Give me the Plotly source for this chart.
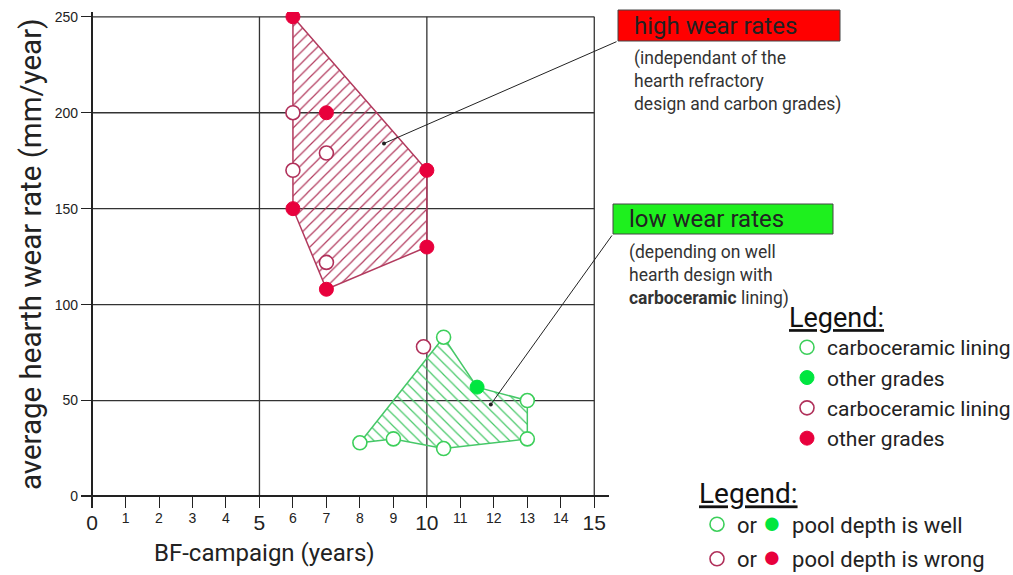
import plotly.graph_objects as go

# ---------------- data ----------------
x_ticks = list(range(0, 16))
x_major = [0, 5, 10, 15]
y_ticks = [0, 50, 100, 150, 200, 250]
grid_x = [5, 10, 15]
grid_y = [50, 100, 150, 200, 250]

green_open_x = [10.5, 13, 8, 9, 10.5, 13]
green_open_y = [83, 50, 28, 30, 25, 30]
green_fill_x = [11.5]
green_fill_y = [57]
red_open_x = [6, 7, 6, 7, 9.9]
red_open_y = [200, 179, 170, 122, 78]
red_fill_x = [6, 7, 10, 6, 10, 7]
red_fill_y = [250, 200, 170, 150, 130, 108]

high_zone_x = [6, 10, 10, 7, 6, 6]
high_zone_y = [250, 170, 130, 108, 150, 250]
low_zone_x = [10.5, 11.5, 13, 13, 10.5, 9, 8, 10.5]
low_zone_y = [83, 57, 50, 30, 25, 30, 28, 83]

legend1_names = ["carboceramic lining", "other grades", "carboceramic lining", "other grades"]
legend2_names = ["pool depth is well", "pool depth is wrong"]

# ---------------- style ----------------
FONT = "Roboto"
TICKFONT = "Liberation Sans"
RED_FILL = "#e8003c"
RED_LINE = "#b0305a"
RED_HATCH = "#b23a5e"
GREEN_FILL = "#00e640"
GREEN_LINE = "#3ccf5a"
GREEN_HATCH = "#46c868"
INK = "#222222"

W, H = 1013, 575
ML, MR, MT, MB = 81, 404, 12, 67
XR = [-0.33, 15.44]
YR = [-6.0, 252.5]
PW = W - ML - MR
PH = H - MT - MB


def px(xv):
    return ML + (xv - XR[0]) / (XR[1] - XR[0]) * PW


def py(yv):
    return MT + (YR[1] - yv) / (YR[1] - YR[0]) * PH


def paper_x(xp):
    return (xp - ML) / PW


def paper_y(yp):
    return (H - MB - yp) / PH


fig = go.Figure()

# hatched zones
fig.add_trace(go.Scatter(
    x=high_zone_x, y=high_zone_y, mode="lines", fill="toself",
    fillcolor="rgba(0,0,0,0)",
    fillpattern=dict(shape="/", fgcolor=RED_HATCH, bgcolor="rgba(0,0,0,0)",
                     size=8, solidity=0.15, fillmode="replace"),
    line=dict(color=RED_HATCH, width=1.5), showlegend=False, hoverinfo="skip"))
fig.add_trace(go.Scatter(
    x=low_zone_x, y=low_zone_y, mode="lines", fill="toself",
    fillcolor="rgba(0,0,0,0)",
    fillpattern=dict(shape="\\", fgcolor=GREEN_HATCH, bgcolor="rgba(0,0,0,0)",
                     size=8, solidity=0.15, fillmode="replace"),
    line=dict(color=GREEN_HATCH, width=1.5), showlegend=False, hoverinfo="skip"))

# markers
MS = 14
fig.add_trace(go.Scatter(
    x=green_open_x, y=green_open_y, mode="markers", name=legend1_names[0],
    marker=dict(size=MS, color="white", line=dict(color=GREEN_LINE, width=1.6))))
fig.add_trace(go.Scatter(
    x=green_fill_x, y=green_fill_y, mode="markers", name=legend1_names[1],
    marker=dict(size=MS, color=GREEN_FILL, line=dict(color=GREEN_FILL, width=1))))
fig.add_trace(go.Scatter(
    x=red_open_x, y=red_open_y, mode="markers", name=legend1_names[2],
    marker=dict(size=MS, color="white", line=dict(color=RED_LINE, width=1.6))))
fig.add_trace(go.Scatter(
    x=red_fill_x, y=red_fill_y, mode="markers", name=legend1_names[3],
    marker=dict(size=MS, color=RED_FILL, line=dict(color=RED_FILL, width=1))))

# second legend entries (pool depth)
DOT = "<span style='color:%s;font-size:31px'>●</span>"
fig.add_trace(go.Scatter(
    x=[None], y=[None], mode="markers", legend="legend2", xaxis="x2", legendgroup="g1",
    name="or\u00a0" + DOT % GREEN_FILL + "\u00a0\u00a0" + legend2_names[0],
    marker=dict(size=MS, color="white", line=dict(color=GREEN_LINE, width=1.6))))
fig.add_trace(go.Scatter(
    x=[None], y=[None], mode="markers", legend="legend2", xaxis="x2", legendgroup="g2",
    name="or\u00a0" + DOT % RED_FILL + "\u00a0\u00a0" + legend2_names[1],
    marker=dict(size=MS, color="white", line=dict(color=RED_LINE, width=1.6))))

# grid as shapes (grid stops at x=15 and y=250)
shapes = []
for gx in grid_x:
    shapes.append(dict(type="line", xref="x", yref="y", x0=gx, x1=gx, y0=0, y1=max(y_ticks),
                       line=dict(color="#333333", width=1.3), layer="below"))
for gy in grid_y:
    shapes.append(dict(type="line", xref="x", yref="y", x0=0, x1=max(x_ticks), y0=gy, y1=gy,
                       line=dict(color="#333333", width=1.3), layer="below"))


def rect_px(x0, y0, x1, y1, fill):
    return dict(type="rect", xref="paper", yref="paper",
                x0=paper_x(x0), x1=paper_x(x1), y0=paper_y(y1), y1=paper_y(y0),
                fillcolor=fill, line=dict(color="#444444", width=1), layer="above")


shapes.append(rect_px(618, 10, 840, 41, "#ff0000"))
shapes.append(rect_px(613, 204, 833, 234, "#1ef01e"))

annotations = [
    dict(text="high wear rates", x=paper_x(632), y=paper_y(25.5), xref="paper", yref="paper",
         xanchor="left", yanchor="middle", showarrow=False, font=dict(family=FONT, size=24, color=INK)),
    dict(text="(independant of the<br>hearth refractory<br>design and carbon grades)",
         x=paper_x(632), y=paper_y(81), xref="paper", yref="paper", align="left",
         xanchor="left", yanchor="middle", showarrow=False, font=dict(family=FONT, size=17.5, color="#333333")),
    dict(text="low wear rates", x=paper_x(627), y=paper_y(219), xref="paper", yref="paper",
         xanchor="left", yanchor="middle", showarrow=False, font=dict(family=FONT, size=24, color=INK)),
    dict(text="(depending on well<br>hearth design with<br><b>carboceramic</b> lining)",
         x=paper_x(627), y=paper_y(275), xref="paper", yref="paper", align="left",
         xanchor="left", yanchor="middle", showarrow=False, font=dict(family=FONT, size=17.5, color="#333333")),
    dict(text="BF-campaign (years)", x=paper_x(264), y=paper_y(553), xref="paper", yref="paper",
         xanchor="center", yanchor="middle", showarrow=False, font=dict(family=FONT, size=24, color=INK)),
    dict(text="average hearth wear rate (mm/year)", x=paper_x(31), y=paper_y(255), xref="paper", yref="paper",
         textangle=-90, xanchor="center", yanchor="middle", showarrow=False,
         font=dict(family=FONT, size=29.5, color=INK)),
    # pointers
    dict(text="", x=8.72, y=184, xref="x", yref="y", axref="pixel", ayref="pixel",
         ax=618 - px(8.72), ay=41 - py(184), showarrow=True, arrowhead=6, arrowsize=1,
         arrowwidth=1, arrowcolor=INK, standoff=0),
    dict(text="", x=11.91, y=48, xref="x", yref="y", axref="pixel", ayref="pixel",
         ax=613 - px(11.91), ay=234 - py(48), showarrow=True, arrowhead=6, arrowsize=1,
         arrowwidth=1, arrowcolor=INK, standoff=0),
]

fig.update_layout(
    width=W, height=H,
    margin=dict(l=ML, r=MR, t=MT, b=MB, pad=0, autoexpand=False),
    paper_bgcolor="white", plot_bgcolor="white",
    showlegend=True,
    xaxis=dict(range=XR, showgrid=False, showline=False, zeroline=True,
               zerolinecolor=INK, zerolinewidth=2,
               tickmode="array", tickvals=x_ticks,
               ticktext=["" if v in x_major else str(v) for v in x_ticks],
               ticks="inside", ticklen=11, tickwidth=1.3, tickcolor=INK, ticklabelstandoff=0,
               tickfont=dict(family=TICKFONT, size=14, color=INK), fixedrange=True),
    xaxis2=dict(range=XR, overlaying="x", anchor="y", side="bottom",
                showgrid=False, showline=False, zeroline=False,
                tickmode="array", tickvals=x_major, ticktext=[str(v) for v in x_major],
                ticks="", ticklabelstandoff=0, fixedrange=True,
                tickfont=dict(family=TICKFONT, size=21, color=INK)),
    yaxis=dict(range=YR, showgrid=False, showline=False, zeroline=True,
               zerolinecolor=INK, zerolinewidth=2,
               tickmode="array", tickvals=y_ticks, ticktext=[str(v) for v in y_ticks],
               ticks="inside", ticklen=11, tickwidth=1.3, tickcolor=INK, ticklabelstandoff=2,
               tickfont=dict(family=TICKFONT, size=14, color=INK), fixedrange=True),
    legend=dict(x=paper_x(787), y=paper_y(292), xanchor="left", yanchor="top",
                bgcolor="rgba(0,0,0,0)", borderwidth=0,
                title=dict(text="<u>Legend:</u>", font=dict(family=FONT, size=27, color="#111111")),
                font=dict(family=FONT, size=21, color=INK), traceorder="normal"),
    legend2=dict(x=paper_x(697), y=paper_y(467), xanchor="left", yanchor="top",
                 bgcolor="rgba(0,0,0,0)", borderwidth=0, tracegroupgap=3,
                 title=dict(text="<u>Legend:</u>", font=dict(family=FONT, size=28, color="#111111")),
                 font=dict(family=FONT, size=22, color=INK), traceorder="grouped"),
    shapes=shapes,
    annotations=annotations,
)

fig.write_html("out.html", config={"displayModeBar": False},
               post_script="document.body.style.margin='0px';")
